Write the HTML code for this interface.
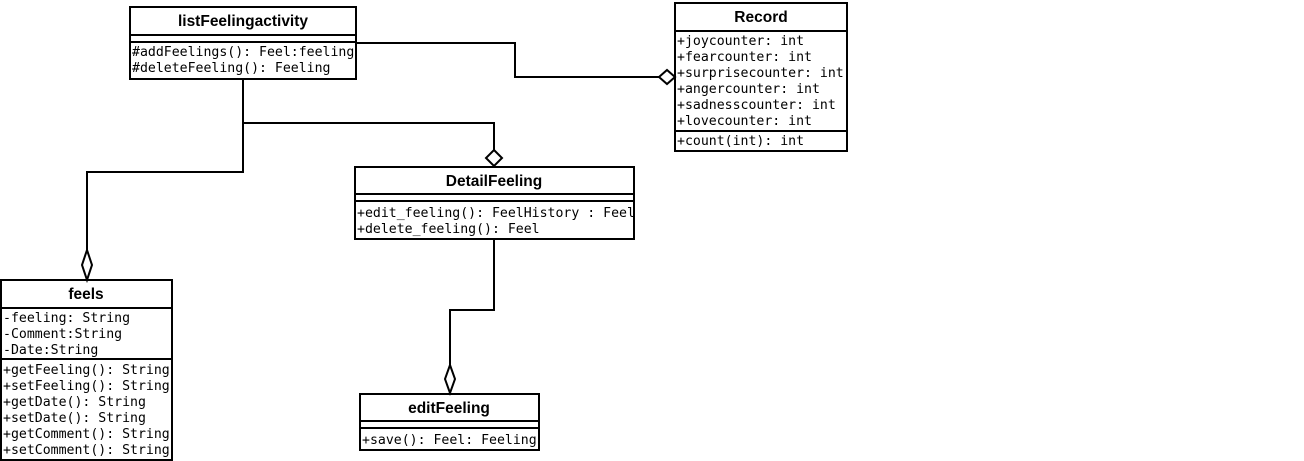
<!DOCTYPE html>
<html><head><style>
html,body{margin:0;padding:0;background:#fff;width:1304px;height:461px;overflow:hidden}
svg text.m{font-family:"DejaVu Sans Mono","Liberation Mono",monospace;font-size:13.2px;fill:#000}
svg text.t{font-family:"Liberation Sans","DejaVu Sans",sans-serif;font-size:15.5px;font-weight:bold;fill:#000}
</style></head><body>
<svg width="1304" height="461" xmlns="http://www.w3.org/2000/svg">
<g fill="none" stroke="#000" stroke-width="2">
<polyline points="356,43 515,43 515,77 659,77"/>
<polygon points="659,77 667,70 675,77 667,84" fill="#fff"/>
<polyline points="243,79 243,172 87,172 87,250"/>
<polygon points="87,250 92,265 87,280 82,265" fill="#fff"/>
<polyline points="243,123 494,123 494,150"/>
<polygon points="494,150 502,158 494,166 486,158" fill="#fff"/>
<polyline points="494,239 494,310 450,310 450,365"/>
<polygon points="450,365 455,379 450,393 445,379" fill="#fff"/>
<rect x="130" y="7" width="226" height="72"/>
<line x1="130" y1="35" x2="356" y2="35"/><line x1="130" y1="42" x2="356" y2="42"/>
<rect x="675" y="3" width="172" height="148"/>
<line x1="675" y1="31" x2="847" y2="31"/><line x1="675" y1="131" x2="847" y2="131"/>
<rect x="355" y="167" width="279" height="72"/>
<line x1="355" y1="194" x2="634" y2="194"/><line x1="355" y1="201" x2="634" y2="201"/>
<rect x="360" y="394" width="179" height="56"/>
<line x1="360" y1="421" x2="539" y2="421"/><line x1="360" y1="428" x2="539" y2="428"/>
<rect x="1" y="280" width="171" height="180"/>
<line x1="1" y1="308" x2="172" y2="308"/><line x1="1" y1="359" x2="172" y2="359"/>
</g>
<text class="t" x="243" y="26" text-anchor="middle">listFeelingactivity</text>
<text class="m" x="132" y="56">#addFeelings(): Feel:feeling</text>
<text class="m" x="132" y="72">#deleteFeeling(): Feeling</text>
<text class="t" x="761" y="22" text-anchor="middle">Record</text>
<text class="m" x="677" y="45">+joycounter: int</text>
<text class="m" x="677" y="61">+fearcounter: int</text>
<text class="m" x="677" y="77">+surprisecounter: int</text>
<text class="m" x="677" y="93">+angercounter: int</text>
<text class="m" x="677" y="109">+sadnesscounter: int</text>
<text class="m" x="677" y="125">+lovecounter: int</text>
<text class="m" x="677" y="145">+count(int): int</text>
<text class="t" x="494" y="186" text-anchor="middle">DetailFeeling</text>
<text class="m" x="357" y="217">+edit_feeling(): FeelHistory : Feel</text>
<text class="m" x="357" y="233">+delete_feeling(): Feel</text>
<text class="t" x="449" y="413" text-anchor="middle">editFeeling</text>
<text class="m" x="362" y="444">+save(): Feel: Feeling</text>
<text class="t" x="86" y="299" text-anchor="middle">feels</text>
<text class="m" x="3" y="322">-feeling: String</text>
<text class="m" x="3" y="338">-Comment:String</text>
<text class="m" x="3" y="354">-Date:String</text>
<text class="m" x="3" y="374">+getFeeling(): String</text>
<text class="m" x="3" y="390">+setFeeling(): String</text>
<text class="m" x="3" y="406">+getDate(): String</text>
<text class="m" x="3" y="422">+setDate(): String</text>
<text class="m" x="3" y="438">+getComment(): String</text>
<text class="m" x="3" y="454">+setComment(): String</text>
</svg>
</body></html>
